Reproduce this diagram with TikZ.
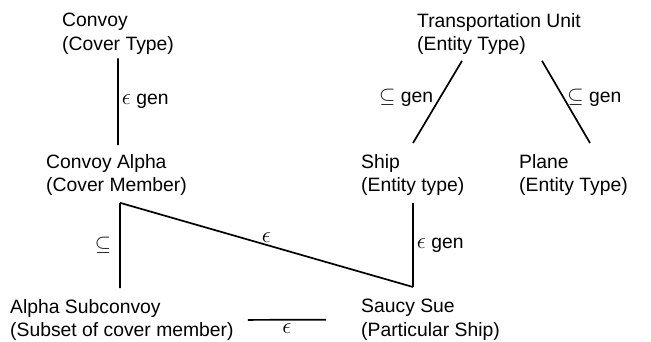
\documentclass[tikz,border=0pt]{standalone}
\RequirePackage{fix-cm}
\usepackage{fontspec}
\setmainfont{Liberation Sans}
\newcommand{\epsym}{{\fontsize{23}{23}\selectfont$\epsilon$}}
\newcommand{\subsym}{{\fontsize{21}{23}\selectfont$\subseteq$}}
\begin{document}
\begin{tikzpicture}[x=1bp,y=-1bp]
\tikzstyle{box}=[anchor=north west, inner sep=0pt, align=left, font=\fontsize{19.4}{23.5}\selectfont]
\tikzstyle{link}=[line width=1.7bp]
\tikzstyle{tag}=[font=\fontsize{19.4}{23.5}\selectfont, inner sep=3bp]
\useasboundingbox (0,0) rectangle (651,341);
\node[box] (convoy) at (62,13) {Convoy\\(Cover Type)};
\node[box] (unit) at (417,13) {Transportation Unit\\(Entity Type)};
\node[box] (alpha) at (46,154) {Convoy Alpha\\(Cover Member)};
\node[box] (ship) at (361,154) {Ship\\(Entity type)};
\node[box] (plane) at (519,154) {Plane\\(Entity Type)};
\node[box] (subconvoy) at (10,299) {Alpha Subconvoy\\(Subset of cover member)};
\node[box] (saucy) at (361,299) {Saucy Sue\\(Particular Ship)};

\draw[link] ([shift={(56bp,-4bp)}]convoy.south west) -- node[tag,right] {\epsym\ gen} ([shift={(72bp,9bp)}]alpha.north west);
\draw[link] ([shift={(45bp,-6bp)}]unit.south west) -- node[tag,left,pos=.45,xshift=-3bp] {\subsym\ gen} ([shift={(52bp,11bp)}]ship.north west);
\draw[link] ([shift={(125bp,-6bp)}]unit.south west) -- node[tag,right,pos=.45] {\subsym\ gen} ([shift={(71bp,11bp)}]plane.north west);
\draw[link] ([shift={(74bp,-7bp)}]alpha.south west) -- node[tag,left,inner sep=8bp] {\subsym} ([shift={(110bp,11bp)}]subconvoy.north west);
\draw[link] ([shift={(74bp,-7bp)}]alpha.south west) -- node[tag,above,inner sep=2bp] {\epsym} ([shift={(52bp,12bp)}]saucy.north west);
\draw[link] ([shift={(52bp,-7bp)}]ship.south west) -- node[tag,right] {\epsym\ gen} ([shift={(52bp,12bp)}]saucy.north west);
\draw[link] ([xshift=14bp]subconvoy.east) -- node[tag,below] {\epsym} ([xshift=-35bp]saucy.west);
\end{tikzpicture}
\end{document}
